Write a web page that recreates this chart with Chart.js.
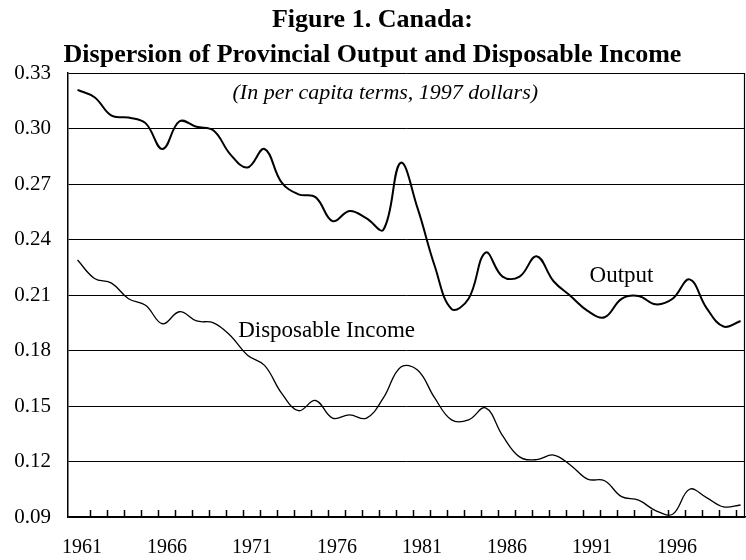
<!DOCTYPE html>
<html>
<head>
<meta charset="utf-8">
<script src="https://cdn.jsdelivr.net/npm/chart.js@4.4.1/dist/chart.umd.min.js"></script>
<style>
  html, body { margin: 0; padding: 0; background: #fff; }
</style>
</head>
<body>
<canvas id="chart" width="746" height="560"></canvas>
<script>
// Years on the horizontal axis (one point per year)
const years = [
  1961, 1962, 1963, 1964, 1965, 1966, 1967, 1968, 1969, 1970,
  1971, 1972, 1973, 1974, 1975, 1976, 1977, 1978, 1979, 1980,
  1981, 1982, 1983, 1984, 1985, 1986, 1987, 1988, 1989, 1990,
  1991, 1992, 1993, 1994, 1995, 1996, 1997, 1998, 1999, 2000
];

// Dispersion of provincial output (per capita, 1997 dollars)
const outputValues = [
  0.321, 0.317, 0.307, 0.306, 0.303, 0.289, 0.304, 0.301, 0.299, 0.286,
  0.279, 0.289, 0.271, 0.2645, 0.263, 0.250, 0.2555, 0.2515, 0.2455, 0.2815,
  0.257, 0.226, 0.2025, 0.208, 0.233, 0.220, 0.220, 0.231, 0.2175, 0.2095,
  0.2015, 0.198, 0.208, 0.2095, 0.205, 0.208, 0.2185, 0.203, 0.193, 0.196
];

// Dispersion of provincial disposable income
const incomeValues = [
  0.229, 0.219, 0.2165, 0.208, 0.2045, 0.1945, 0.201, 0.196, 0.195, 0.188,
  0.1775, 0.172, 0.157, 0.1475, 0.153, 0.1435, 0.1452, 0.1435, 0.1545, 0.171,
  0.1695, 0.1545, 0.1425, 0.1425, 0.149, 0.134, 0.1225, 0.121, 0.1235, 0.118,
  0.1105, 0.1096, 0.101, 0.0991, 0.0935, 0.0915, 0.105, 0.1005, 0.0955, 0.0965
];

const yTicks = [0.09, 0.12, 0.15, 0.18, 0.21, 0.24, 0.27, 0.30, 0.33];
const yearLabels = [1961, 1966, 1971, 1976, 1981, 1986, 1991, 1996];
const titleLines = ['Figure 1. Canada:', 'Dispersion of Provincial Output and Disposable Income'];
const subtitle = '(In per capita terms, 1997 dollars)';
const seriesLabels = ['Output', 'Disposable Income'];

const SERIF = '"Liberation Serif", "Times New Roman", serif';

// frame edge, small year ticks on the axis and the in-plot texts
const decorations = {
  id: 'decorations',
  afterDraw(chart) {
    const { ctx, chartArea, scales } = chart;
    const x = scales.x, y = scales.y;
    ctx.save();
    ctx.strokeStyle = '#000';
    ctx.lineWidth = 1.2;
    ctx.beginPath();
    ctx.moveTo(chartArea.right - 0.5, chartArea.top);
    ctx.lineTo(chartArea.right - 0.5, chartArea.bottom);
    ctx.stroke();

    ctx.lineWidth = 1.5;
    years.slice(0, -1).forEach(function(yr) {
      const px = Math.round(x.getPixelForValue(yr + 0.74)) + 0.5;
      ctx.beginPath();
      ctx.moveTo(px, chartArea.bottom);
      ctx.lineTo(px, chartArea.bottom - 7);
      ctx.stroke();
    });

    ctx.fillStyle = '#000';
    ctx.textAlign = 'center';
    ctx.textBaseline = 'middle';
    ctx.font = 'italic 22px ' + SERIF;
    ctx.fillText(subtitle, x.getPixelForValue(1979.1), y.getPixelForValue(0.3192));
    ctx.font = '23px ' + SERIF;
    ctx.fillText(seriesLabels[0], x.getPixelForValue(1993.0), y.getPixelForValue(0.2205));
    ctx.fillText(seriesLabels[1], x.getPixelForValue(1975.65), y.getPixelForValue(0.1905));
    ctx.restore();
  }
};

const ctx = document.getElementById('chart').getContext('2d');
const chart = new Chart(ctx, {
  type: 'line',
  data: {
    datasets: [{
      label: seriesLabels[0],
      data: years.map((yr, i) => ({ x: yr, y: outputValues[i] })),
      borderColor: '#000',
      borderWidth: 2,
      pointRadius: 0,
      tension: 0.4,
      fill: false
    }, {
      label: seriesLabels[1],
      data: years.map((yr, i) => ({ x: yr, y: incomeValues[i] })),
      borderColor: '#000',
      borderWidth: 1.3,
      pointRadius: 0,
      tension: 0.4,
      fill: false
    }]
  },
  options: {
    responsive: false,
    animation: false,
    layout: { padding: { left: 0, right: 1, top: 0, bottom: 0 } },
    plugins: {
      legend: { display: false },
      tooltip: { enabled: false },
      title: {
        display: true,
        text: titleLines,
        color: '#000',
        font: { family: SERIF, size: 26, weight: 'bold', lineHeight: 1.35 },
        padding: { top: 3, bottom: 0 }
      }
    },
    scales: {
      x: {
        type: 'linear',
        min: 1960.44,
        max: 2000.26,
        afterBuildTicks: function(scale) {
          scale.ticks = yearLabels.map(v => ({ value: v }));
        },
        afterFit: function(scale) { scale.height = 43; },
        ticks: {
          color: '#000',
          font: { family: SERIF, size: 20 },
          padding: 19,
          labelOffset: 4.5,
          maxRotation: 0,
          autoSkip: false,
          callback: v => String(v)
        },
        grid: { display: false, drawTicks: false },
        border: { display: true, color: '#000', width: 1.5 }
      },
      y: {
        min: 0.09,
        max: 0.33,
        afterBuildTicks: function(scale) {
          scale.ticks = yTicks.map(v => ({ value: v }));
        },
        afterFit: function(scale) { scale.width = 68; },
        ticks: {
          color: '#000',
          font: { family: SERIF, size: 21 },
          padding: 17,
          callback: v => v.toFixed(2)
        },
        grid: { color: '#000', lineWidth: 1, drawTicks: false },
        border: { display: true, color: '#000', width: 1.5 }
      }
    }
  },
  plugins: [decorations]
});
</script>
</body>
</html>
